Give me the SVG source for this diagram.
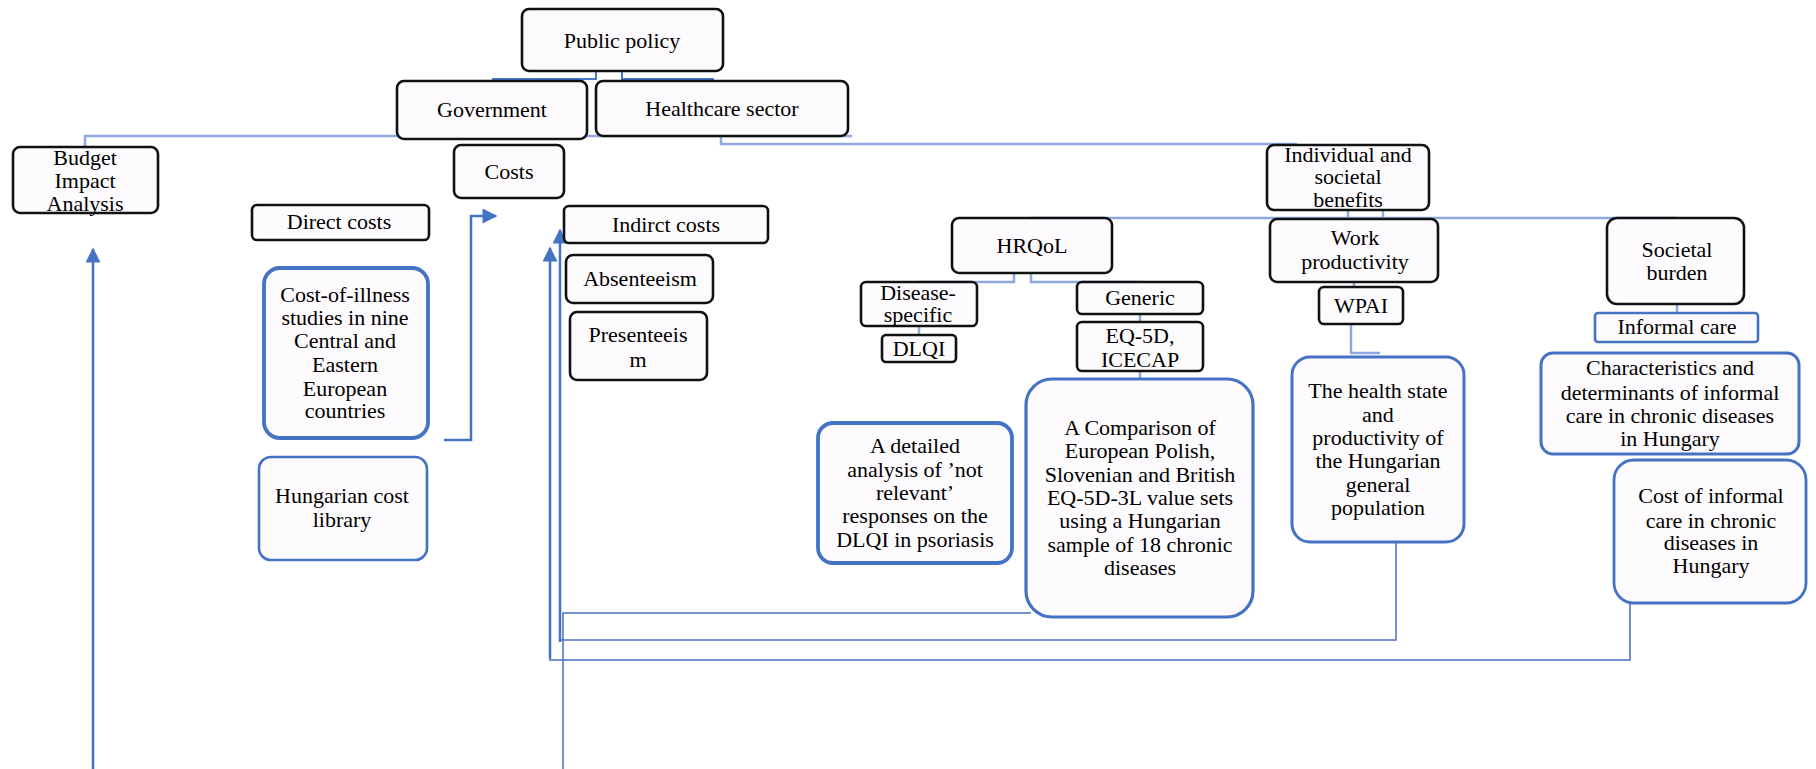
<svg xmlns="http://www.w3.org/2000/svg" width="1816" height="769" viewBox="0 0 1816 769">
<defs>
<style>
.n{fill:#fdfbfd;stroke:#111;stroke-width:2.6}
.b{fill:#fdfbfd;stroke:#4472c4;stroke-width:3}
.c{fill:none;stroke:#8ea9e0;stroke-width:2.5}
.cd{fill:none;stroke:#4a78cc;stroke-width:2}
.a{fill:none;stroke:#4472c4;stroke-width:2.5}
.th{fill:none;stroke:#4472c4;stroke-width:1.5}
</style>
<marker id="ah" viewBox="0 0 10 10" refX="9" refY="5" markerWidth="16" markerHeight="15" markerUnits="userSpaceOnUse" orient="auto">
<path d="M0,0 L10,5 L0,10 z" fill="#4472c4"/>
</marker>
</defs>
<rect width="1816" height="769" fill="#fff"/>

<g id="connectors">
<path class="cd" d="M596,71 V79 H492"/>
<path class="cd" d="M622,71 V79 H714"/>
<path class="c" d="M85,147 V136 H852"/>
<path class="c" d="M721,136 V144 H1297"/>
<path class="c" d="M1348,210 V218 M1383,210 V218 M1030,218 H1677"/>
<path class="c" d="M1014,273 V282 H918"/>
<path class="c" d="M1031,273 V282 H1143"/>
<path class="c" d="M919,326 V335"/>
<path class="c" d="M1140,314 V322"/>
<path class="c" d="M1140,371 V380"/>
<path class="c" d="M1354,282 V287"/>
<path class="c" d="M1351,324 V353 H1380"/>
<path class="c" d="M1677,304 V313"/>
<path class="a" d="M93,769 V249" marker-end="url(#ah)"/>
<path class="a" d="M444,440 H471 V216 H496" marker-end="url(#ah)"/>
<path class="th" d="M1396,541 V640 H560"/>
<path class="a" d="M560,642 V230" marker-end="url(#ah)"/>
<path class="th" d="M1630,600 V660 H549"/>
<path class="a" d="M550,659 V248" marker-end="url(#ah)"/>
<path class="th" d="M1031,613 H563 V769"/>
</g>

<g id="public-policy"><rect class="n" x="522" y="9" width="201" height="62" rx="7"/><text font-family="Liberation Serif" font-size="22" text-anchor="middle" x="622" y="48">Public policy</text></g>
<g id="government"><rect class="n" x="397" y="81" width="190" height="58" rx="7"/><text font-family="Liberation Serif" font-size="22" text-anchor="middle" x="492" y="117">Government</text></g>
<g id="healthcare-sector"><rect class="n" x="596" y="81" width="252" height="55" rx="7"/><text font-family="Liberation Serif" font-size="22" text-anchor="middle" x="722" y="116">Healthcare sector</text></g>
<g id="budget-impact"><rect class="n" x="13" y="147" width="145" height="66" rx="7"/><text font-family="Liberation Serif" font-size="22" text-anchor="middle"><tspan x="85" y="165">Budget</tspan><tspan x="85" y="188">Impact</tspan><tspan x="85" y="211">Analysis</tspan></text></g>
<g id="costs"><rect class="n" x="454" y="145" width="110" height="53" rx="7"/><text font-family="Liberation Serif" font-size="22" text-anchor="middle" x="509" y="179">Costs</text></g>
<g id="direct-costs"><rect class="n" x="252" y="205" width="177" height="35" rx="5"/><text font-family="Liberation Serif" font-size="22" text-anchor="middle" x="339" y="229">Direct costs</text></g>
<g id="indirect-costs"><rect class="n" x="564" y="206" width="204" height="37" rx="5"/><text font-family="Liberation Serif" font-size="22" text-anchor="middle" x="666" y="232">Indirct costs</text></g>
<g id="absenteeism"><rect class="n" x="566" y="255" width="147" height="48" rx="7"/><text font-family="Liberation Serif" font-size="22" text-anchor="middle" x="640" y="286">Absenteeism</text></g>
<g id="presenteeism"><rect class="n" x="570" y="312" width="137" height="68" rx="7"/><text font-family="Liberation Serif" font-size="22" text-anchor="middle"><tspan x="638" y="342">Presenteeis</tspan><tspan x="638" y="367">m</tspan></text></g>
<g id="cost-of-illness"><rect class="b" x="264" y="268" width="164" height="170" rx="16" style="stroke-width:3.8"/><text font-family="Liberation Serif" font-size="22" text-anchor="middle"><tspan x="345" y="302">Cost-of-illness</tspan><tspan x="345" y="325">studies in nine</tspan><tspan x="345" y="348">Central and</tspan><tspan x="345" y="372">Eastern</tspan><tspan x="345" y="396">European</tspan><tspan x="345" y="418">countries</tspan></text></g>
<g id="hungarian-cost-library"><rect class="b" x="259" y="457" width="168" height="103" rx="12" style="stroke-width:2.6"/><text font-family="Liberation Serif" font-size="22" text-anchor="middle"><tspan x="342" y="503">Hungarian cost</tspan><tspan x="342" y="527">library</tspan></text></g>

<g id="individual-societal"><rect class="n" x="1267" y="145" width="162" height="65" rx="7"/><text font-family="Liberation Serif" font-size="22" text-anchor="middle"><tspan x="1348" y="162">Individual and</tspan><tspan x="1348" y="184">societal</tspan><tspan x="1348" y="207">benefits</tspan></text></g>
<g id="hrqol"><rect class="n" x="952" y="218" width="160" height="55" rx="7"/><text font-family="Liberation Serif" font-size="22" text-anchor="middle" x="1032" y="253">HRQoL</text></g>
<g id="disease-specific"><rect class="n" x="861" y="282" width="116" height="44" rx="5"/><text font-family="Liberation Serif" font-size="22" text-anchor="middle"><tspan x="918" y="300">Disease-</tspan><tspan x="918" y="322">specific</tspan></text></g>
<g id="dlqi"><rect class="n" x="882" y="335" width="74" height="27" rx="4"/><text font-family="Liberation Serif" font-size="22" text-anchor="middle" x="919" y="356">DLQI</text></g>
<g id="generic"><rect class="n" x="1077" y="282" width="126" height="32" rx="5"/><text font-family="Liberation Serif" font-size="22" text-anchor="middle" x="1140" y="305">Generic</text></g>
<g id="eq5d"><rect class="n" x="1077" y="322" width="126" height="49" rx="5"/><text font-family="Liberation Serif" font-size="22" text-anchor="middle"><tspan x="1140" y="343">EQ-5D,</tspan><tspan x="1140" y="367">ICECAP</tspan></text></g>
<g id="detailed-analysis"><rect class="b" x="818" y="423" width="194" height="140" rx="15" style="stroke-width:3.8"/><text font-family="Liberation Serif" font-size="22" text-anchor="middle"><tspan x="915" y="453">A detailed</tspan><tspan x="915" y="477">analysis of ’not</tspan><tspan x="915" y="500">relevant’</tspan><tspan x="915" y="523">responses on the</tspan><tspan x="915" y="547">DLQI in psoriasis</tspan></text></g>
<g id="comparison"><rect class="b" x="1026" y="379" width="227" height="238" rx="26" style="stroke-width:3.2"/><text font-family="Liberation Serif" font-size="22" text-anchor="middle"><tspan x="1140" y="435">A Comparison of</tspan><tspan x="1140" y="458">European Polish,</tspan><tspan x="1140" y="482">Slovenian and British</tspan><tspan x="1140" y="505">EQ-5D-3L value sets</tspan><tspan x="1140" y="528">using a Hungarian</tspan><tspan x="1140" y="552">sample of 18 chronic</tspan><tspan x="1140" y="575">diseases</tspan></text></g>
<g id="work-productivity"><rect class="n" x="1270" y="219" width="168" height="63" rx="7"/><text font-family="Liberation Serif" font-size="22" text-anchor="middle"><tspan x="1355" y="245">Work</tspan><tspan x="1355" y="269">productivity</tspan></text></g>
<g id="wpai"><rect class="n" x="1319" y="287" width="84" height="37" rx="5"/><text font-family="Liberation Serif" font-size="22" text-anchor="middle" x="1361" y="313">WPAI</text></g>
<g id="health-state"><rect class="b" x="1292" y="357" width="172" height="185" rx="18"/><text font-family="Liberation Serif" font-size="22" text-anchor="middle"><tspan x="1378" y="398">The health state</tspan><tspan x="1378" y="422">and</tspan><tspan x="1378" y="445">productivity of</tspan><tspan x="1378" y="468">the Hungarian</tspan><tspan x="1378" y="492">general</tspan><tspan x="1378" y="515">population</tspan></text></g>
<g id="societal-burden"><rect class="n" x="1607" y="218" width="137" height="86" rx="10"/><text font-family="Liberation Serif" font-size="22" text-anchor="middle"><tspan x="1677" y="257">Societal</tspan><tspan x="1677" y="280">burden</tspan></text></g>
<g id="informal-care"><rect class="b" x="1595" y="313" width="163" height="29" rx="3" style="stroke-width:2.6"/><text font-family="Liberation Serif" font-size="22" text-anchor="middle" x="1677" y="334">Informal care</text></g>
<g id="characteristics"><rect class="b" x="1541" y="353" width="258" height="101" rx="12"/><text font-family="Liberation Serif" font-size="22" text-anchor="middle"><tspan x="1670" y="375">Characteristics and</tspan><tspan x="1670" y="400">determinants of informal</tspan><tspan x="1670" y="423">care in chronic diseases</tspan><tspan x="1670" y="446">in Hungary</tspan></text></g>
<g id="cost-informal-care"><rect class="b" x="1614" y="460" width="192" height="143" rx="20" style="stroke-width:2.8"/><text font-family="Liberation Serif" font-size="22" text-anchor="middle"><tspan x="1711" y="503">Cost of informal</tspan><tspan x="1711" y="528">care in chronic</tspan><tspan x="1711" y="550">diseases in</tspan><tspan x="1711" y="573">Hungary</tspan></text></g>
</svg>
